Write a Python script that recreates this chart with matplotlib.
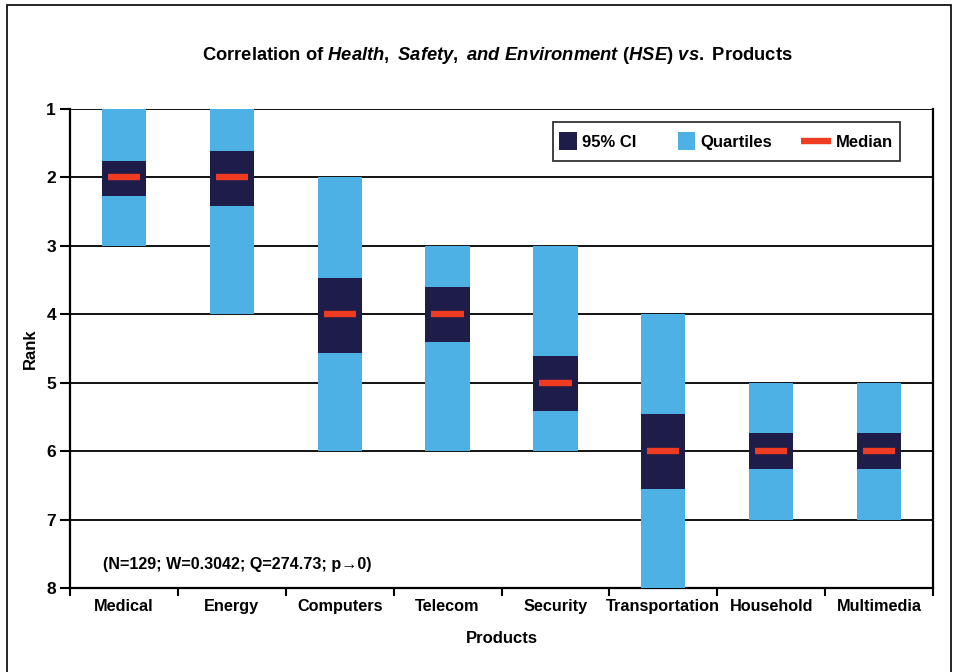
import matplotlib
matplotlib.use("Agg")
import matplotlib.pyplot as plt
from matplotlib.patches import Patch, Rectangle
from matplotlib.lines import Line2D
from matplotlib.legend_handler import HandlerPatch, HandlerBase

categories = ["Medical", "Energy", "Computers", "Telecom", "Security",
              "Transportation", "Household", "Multimedia"]
q_low = [1, 1, 2, 3, 3, 4, 5, 5]
q_high = [3, 4, 6, 6, 6, 8, 7, 7]
ci_low = [1.76, 1.61, 3.47, 3.60, 4.61, 5.46, 5.74, 5.74]
ci_high = [2.27, 2.42, 4.56, 4.41, 5.42, 6.56, 6.26, 6.26]
median = [2, 2, 4, 4, 5, 6, 6, 6]
rank_ticks = [1, 2, 3, 4, 5, 6, 7, 8]

LIGHT = "#4DB1E5"
DARK = "#1E1C48"
RED = "#EE3B22"
FONT = ["Liberation Sans", "DejaVu Sans"]
plt.rcParams["font.family"] = FONT
plt.rcParams["mathtext.fontset"] = "custom"
plt.rcParams["mathtext.it"] = "Liberation Sans:italic:bold"
plt.rcParams["mathtext.rm"] = "Liberation Sans:bold"
plt.rcParams["mathtext.bf"] = "Liberation Sans:bold"

fig = plt.figure(figsize=(9.56, 6.72), dpi=100)
ax = fig.add_axes([70/956, 1-588/672, (933-70)/956, (588-109)/672])

x = list(range(len(categories)))
bw = 0.41
ax.bar(x, [h - l for l, h in zip(q_low, q_high)], bottom=q_low, width=bw,
       color=LIGHT, zorder=3)
ax.bar(x, [h - l for l, h in zip(ci_low, ci_high)], bottom=ci_low, width=bw,
       color=DARK, zorder=4)
for xi, m in zip(x, median):
    ax.plot([xi - 0.15, xi + 0.15], [m, m], color=RED, lw=4.6,
            solid_capstyle="butt", zorder=5)

ax.set_xlim(-0.5, len(categories) - 0.5)
ax.set_ylim(8, 1)
ax.set_yticks(rank_ticks)
ax.set_yticklabels([str(r) for r in rank_ticks], fontsize=12.5, fontweight="bold")
for r in rank_ticks:
    ax.axhline(r, color="black", lw=1.3, zorder=1)

ax.set_xticks([i + 0.5 for i in range(-1, len(categories))])
ax.set_xticklabels([])
ax.set_xticks(x, minor=True)
ax.set_xticklabels(categories, minor=True, fontsize=11.7, fontweight="bold")
ax.tick_params(axis="x", which="minor", length=0, pad=8)
ax.tick_params(axis="x", which="major", length=6, width=1.5, direction="out")
ax.tick_params(axis="y", length=7, width=1.5, direction="out", pad=3)

for s in ["left", "bottom", "right", "top"]:
    ax.spines[s].set_linewidth(1.6)
ax.spines["top"].set_visible(False)

ax.set_ylabel("Rank", fontsize=12, fontweight="bold", labelpad=6)
ax.set_xlabel("Products", fontsize=12, fontweight="bold", labelpad=12)

fig.text(497.5/956, 1-55/672,
         r"Correlation of $\it{Health,\ Safety,\ and\ Environment\ (HSE)\ vs.}$ Products",
         ha="center", va="center", fontsize=13.2, fontweight="bold")

ax.text(103/956, 1-565/672, "(N=129; W=0.3042; Q=274.73; p\u21920)",
        transform=fig.transFigure, fontsize=11.6, fontweight="bold",
        ha="left", va="center")


class SquareHandler(HandlerPatch):
    def create_artists(self, legend, orig_handle, xdescent, ydescent,
                       width, height, fontsize, trans):
        side = width
        yc = fontsize * 0.35
        r = Rectangle((-xdescent, yc - side / 2),
                      side, side, facecolor=orig_handle.get_facecolor(),
                      edgecolor="none", transform=trans)
        return [r]


class LongLineHandler(HandlerBase):
    def create_artists(self, legend, orig_handle, xdescent, ydescent,
                       width, height, fontsize, trans):
        y = fontsize * 0.35
        ln = Line2D([-xdescent - 0.7 * width, -xdescent + width], [y, y],
                    color=orig_handle.get_color(), lw=orig_handle.get_linewidth(),
                    solid_capstyle="butt", transform=trans)
        return [ln]


handles = [Patch(color=DARK, label="95% CI"),
           Patch(color=LIGHT, label="Quartiles"),
           Line2D([0], [0], color=RED, lw=4.6, label="Median")]
leg = ax.legend(handles=handles, ncol=3, loc="upper right",
                bbox_to_anchor=((900-70)/863, 1-13/479),
                frameon=True, fancybox=False, edgecolor="black",
                prop={"weight": "bold", "size": 12}, handlelength=1.05,
                handleheight=1.95,
                handletextpad=0.3, columnspacing=2.5, borderpad=0.4,
                borderaxespad=0,
                handler_map={Patch: SquareHandler(), Line2D: LongLineHandler()})
leg.get_frame().set_linewidth(1.3)
leg.set_zorder(10)

fig.patches.append(Rectangle((7/956, -0.01), (951-7)/956, 1 - 5/672 + 0.01,
                             transform=fig.transFigure, fill=False,
                             edgecolor="black", lw=1.2))

fig.savefig("out.png", dpi=100)
